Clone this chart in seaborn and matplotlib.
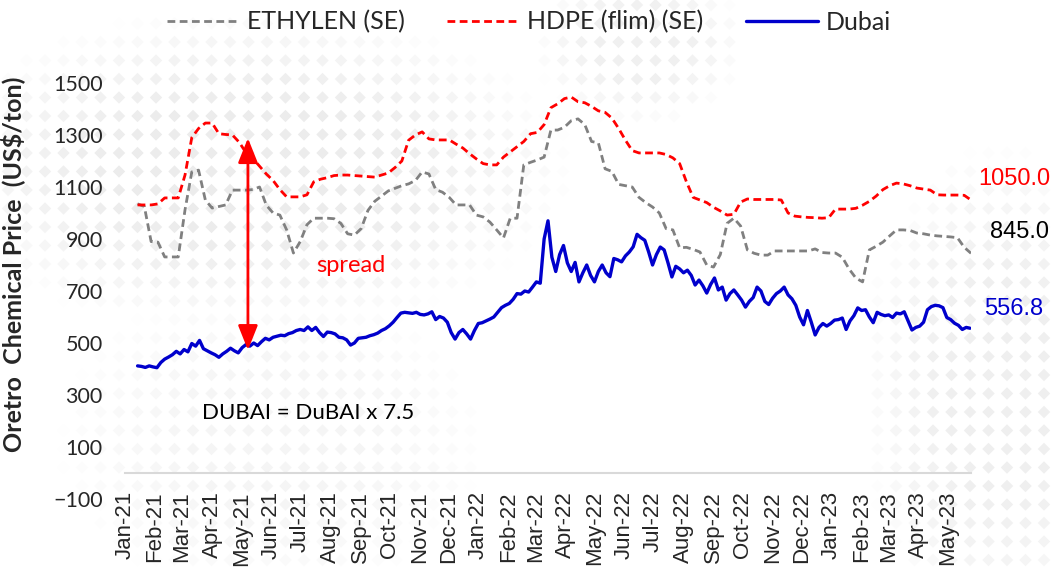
import numpy as np
import pandas as pd
import matplotlib
matplotlib.use("Agg")
import matplotlib.pyplot as plt
import matplotlib.dates as mdates
import seaborn as sns

# ---- series (US$/ton) ----
# weekly quotes from 2021-01-14
ethylen = [1035, 1025, 890, 888, 831, 831, 831, 1012, 1158, 1165,
           1050, 1019, 1025, 1031, 1088, 1088, 1088, 1090, 1100, 1030,
           1000, 992, 935, 846, 890, 955, 980, 980, 980, 978,
           960, 920, 915, 940, 1010, 1045, 1065, 1085, 1095, 1105,
           1112, 1125, 1158, 1150, 1090, 1080, 1060, 1031, 1031, 1031,
           992, 985, 965, 935, 904, 980, 980, 1185, 1195, 1204,
           1215, 1319, 1319, 1330, 1355, 1362, 1340, 1275, 1270, 1170,
           1160, 1110, 1105, 1100, 1060, 1040, 1023, 1000, 940, 935,
           866, 868, 860, 850, 800, 792, 840, 960, 980, 950,
           858, 845, 838, 838, 854, 854, 854, 854, 854, 854,
           862, 848, 846, 846, 830, 785, 750, 735, 858, 872,
           888, 912, 935, 935, 933, 923, 920, 915, 912, 910,
           908, 905, 868, 845.0]

hdpe = [1031, 1031, 1031, 1035, 1058, 1058, 1058, 1146, 1290, 1325,
        1346, 1346, 1305, 1302, 1300, 1272, 1232, 1210, 1180, 1150,
        1125, 1090, 1062, 1062, 1062, 1070, 1120, 1130, 1136, 1144,
        1146, 1146, 1144, 1142, 1140, 1138, 1146, 1154, 1175, 1200,
        1280, 1300, 1312, 1285, 1281, 1281, 1281, 1265, 1250, 1228,
        1208, 1190, 1185, 1185, 1215, 1235, 1255, 1275, 1305, 1310,
        1340, 1405, 1420, 1440, 1446, 1428, 1424, 1410, 1393, 1387,
        1365, 1325, 1280, 1240, 1231, 1231, 1231, 1231, 1225, 1212,
        1190, 1120, 1060, 1050, 1040, 1022, 1008, 992, 995, 1042,
        1054, 1052, 1052, 1052, 1052, 1050, 1000, 988, 985, 983,
        982, 980, 982, 1015, 1015, 1015, 1018, 1030, 1045, 1065,
        1090, 1105, 1115, 1112, 1105, 1096, 1092, 1088, 1070, 1069,
        1069, 1069, 1068, 1050.0]

# Dubai crude x 7.5, every 4 days from 2021-01-14
dubai = [412, 410, 406, 412, 408, 405, 425, 438, 446, 455,
         468, 458, 475, 466, 498, 488, 510, 478, 470, 462,
         455, 445, 458, 468, 480, 470, 462, 482, 494, 488,
         500, 490, 505, 518, 512, 522, 526, 530, 528, 536,
         540, 548, 552, 548, 562, 548, 560, 540, 525, 542,
         540, 535, 522, 520, 512, 492, 500, 518, 520, 522,
         528, 532, 538, 548, 555, 566, 580, 598, 615, 618,
         616, 614, 618, 610, 608, 612, 620, 590, 602, 596,
         580, 540, 515, 540, 552, 535, 515, 548, 575, 578,
         585, 592, 600, 618, 636, 645, 652, 668, 690, 688,
         700, 696, 715, 735, 730, 900, 970, 830, 775, 840,
         875, 808, 775, 810, 735, 770, 800, 760, 735, 775,
         800, 770, 755, 825, 820, 812, 835, 850, 870, 918,
         905, 895, 850, 800, 840, 869, 858, 808, 754, 795,
         785, 770, 780, 760, 723, 742, 720, 692, 725, 750,
         704, 715, 665, 690, 704, 685, 665, 638, 660, 675,
         715, 700, 660, 648, 672, 690, 700, 715, 685, 670,
         645, 600, 570, 625, 580, 531, 560, 575, 565, 575,
         588, 590, 596, 552, 585, 605, 635, 625, 628, 600,
         578, 618, 610, 605, 608, 598, 615, 612, 620, 585,
         550, 560, 565, 580, 628, 640, 645, 643, 636, 598,
         590, 576, 568, 552, 560, 556.8]

weekly_dates = pd.date_range("2021-01-14", periods=len(ethylen), freq="7D")
dubai_dates = pd.date_range("2021-01-14", periods=len(dubai), freq="4D")

df_w = pd.DataFrame({"date": weekly_dates, "ethylen": ethylen, "hdpe": hdpe})
df_d = pd.DataFrame({"date": dubai_dates, "dubai": dubai})

series_names = ["ETHYLEN (SE)", "HDPE (flim) (SE)", "Dubai"]
series_colors = ["#808080", "#FF0000", "#0000CC"]

# ---- style ----
sns.set_style("white")
plt.rcParams["font.family"] = ["Lato", "DejaVu Sans"]

W, H = 1051, 567
fig = plt.figure(figsize=(W / 100, H / 100), dpi=100)

# dotted watermark behind the chart
bg = fig.add_axes([0, 0, 1, 1], zorder=0)
bg.set_xlim(0, W)
bg.set_ylim(H, 0)
bg.axis("off")
gx, gy = np.meshgrid(np.arange(8, W, 18.5), np.arange(5, H, 18.5))
gx, gy = gx.ravel(), gy.ravel()
blobs = [(250, 170, 300, 150, 1.0), (270, 440, 200, 150, 0.5),
         (640, 45, 100, 75, 0.8), (1000, 390, 130, 230, 0.85)]
strength = np.zeros_like(gx, dtype=float)
for cx, cy, rx, ry, s in blobs:
    d = ((gx - cx) / rx) ** 2 + ((gy - cy) / ry) ** 2
    strength = np.maximum(strength, s * np.clip(1.2 - d, 0, 1))
keep = strength > 0.05
shade = 1 - 0.075 * np.minimum(strength[keep], 1)
bg.scatter(gx[keep], gy[keep], marker="D", s=40, c=np.stack([shade] * 3, axis=1),
           linewidths=0)

x0 = 125 / W
x1 = 971 / W
ybot = (H - 499) / H
ytop = (H - 57) / H
ax = fig.add_axes([x0, ybot, x1 - x0, ytop - ybot], zorder=1)
ax.set_facecolor("none")

sns.lineplot(data=df_w, x="date", y="ethylen", ax=ax, color=series_colors[0],
             lw=2.0, label=series_names[0])
sns.lineplot(data=df_w, x="date", y="hdpe", ax=ax, color=series_colors[1],
             lw=2.0, label=series_names[1])
sns.lineplot(data=df_d, x="date", y="dubai", ax=ax, color=series_colors[2],
             lw=2.4, label=series_names[2])
ax.lines[0].set_dashes((2.8, 1.6))
ax.lines[1].set_dashes((2.8, 1.6))

ax.set_xlim(pd.Timestamp("2021-01-01"), pd.Timestamp("2023-05-25"))
ax.set_ylim(-100, 1600)
ax.set_yticks(np.arange(-100, 1501, 200))

for side in ["left", "right", "top"]:
    ax.spines[side].set_visible(False)
ax.spines["bottom"].set_position(("data", 0))
ax.spines["bottom"].set_color("#d9d9d9")
ax.spines["bottom"].set_linewidth(1.5)

ax.xaxis.set_major_locator(mdates.MonthLocator())
ax.xaxis.set_major_formatter(mdates.DateFormatter("%b-%y"))
ax.tick_params(axis="x", direction="out", length=5, width=1.5, color="#d9d9d9",
               pad=8, labelsize=16, labelrotation=90)
for lbl in ax.get_xticklabels():
    lbl.set_fontfamily(["Liberation Sans", "DejaVu Sans"])
ax.tick_params(axis="y", length=0, pad=16, labelsize=15.5)

ax.set_xlabel("")
ax.set_ylabel("Oretro  Chemical Price  (US$/ton)", fontsize=18, fontweight="bold")
ax.yaxis.set_label_coords(-0.1185, 0.53)

# end-of-series value labels
end_labels = [(weekly_dates[-1], hdpe[-1], series_colors[1], (5, 15)),
              (weekly_dates[-1], ethylen[-1], "black", (14, 15)),
              (dubai_dates[-1], dubai[-1], series_colors[2], (10, 14))]
for d, v, c, off in end_labels:
    ax.annotate(f"{v:.1f}", xy=(d, v), xytext=off, textcoords="offset points",
                color=c, fontsize=17, va="center", ha="left",
                family=["Liberation Sans", "DejaVu Sans"])

# spread arrow between the HDPE level and the Dubai level
arrow_date = pd.Timestamp("2021-05-08")
ax.annotate("", xy=(arrow_date, 473), xytext=(arrow_date, 1288),
            arrowprops=dict(arrowstyle="<|-|>,head_length=0.75,head_width=0.3",
                            color="red", lw=2, mutation_scale=20,
                            shrinkA=0, shrinkB=0))
ax.text(pd.Timestamp("2021-07-17"), 800, "spread", color="red", fontsize=17,
        va="center", ha="left")
ax.text(pd.Timestamp("2021-03-22"), 231, "DUBAI = DuBAI x 7.5", color="black",
        fontsize=16, va="center", ha="left")

handles, labels = ax.get_legend_handles_labels()
ax.legend_.remove()
fig.legend(handles, labels, loc="center", bbox_to_anchor=(0.503, 0.961), ncol=3,
           frameon=False, fontsize=18, handlelength=2.9, handletextpad=0.3,
           columnspacing=1.7)

fig.savefig("out.png", dpi=100)
